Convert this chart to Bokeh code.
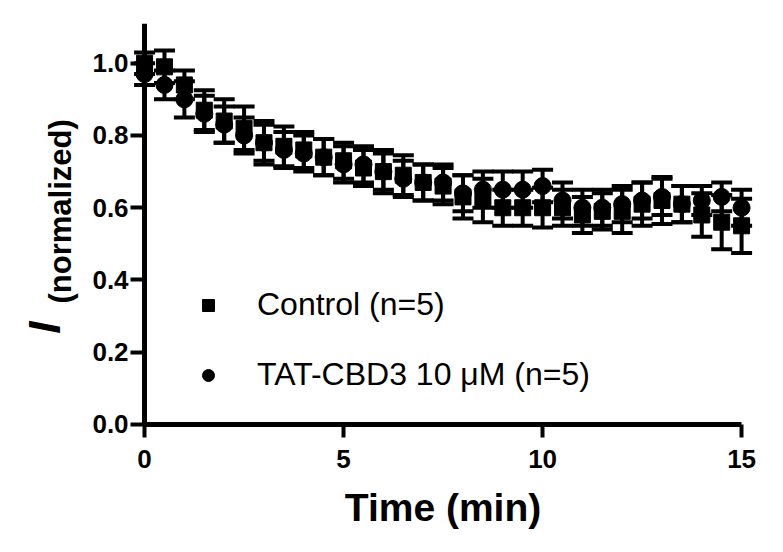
from bokeh.plotting import figure
from bokeh.models import (Range1d, FixedTicker, PrintfTickFormatter, Whisker, TeeHead,
                          ColumnDataSource, Label, Legend, LegendItem)
from bokeh.embed import file_html
from bokeh.resources import INLINE

# ---- data ----
time_min = [0, 0.5, 1, 1.5, 2, 2.5, 3, 3.5, 4, 4.5, 5, 5.5, 6, 6.5, 7, 7.5,
            8, 8.5, 9, 9.5, 10, 10.5, 11, 11.5, 12, 12.5, 13, 13.5, 14, 14.5, 15]
control_mean = [1.00, 0.99, 0.94, 0.87, 0.84, 0.82, 0.78, 0.77, 0.76, 0.74, 0.73,
                0.71, 0.70, 0.69, 0.67, 0.66, 0.63, 0.62, 0.60, 0.60, 0.60, 0.60,
                0.58, 0.59, 0.59, 0.61, 0.62, 0.61, 0.58, 0.56, 0.55]
control_sem = [0.03, 0.045, 0.04, 0.055, 0.06, 0.06, 0.06, 0.055, 0.05, 0.05, 0.05,
               0.05, 0.06, 0.055, 0.05, 0.05, 0.06, 0.06, 0.05, 0.05, 0.055, 0.05,
               0.05, 0.05, 0.06, 0.06, 0.065, 0.05, 0.06, 0.075, 0.075]
tat_mean = [0.97, 0.94, 0.90, 0.86, 0.83, 0.80, 0.78, 0.76, 0.75, 0.74, 0.72,
            0.72, 0.70, 0.68, 0.67, 0.67, 0.64, 0.65, 0.65, 0.65, 0.66, 0.62,
            0.60, 0.60, 0.61, 0.62, 0.63, 0.61, 0.62, 0.63, 0.60]
tat_sem = [0.03, 0.04, 0.05, 0.05, 0.05, 0.05, 0.05, 0.05, 0.05, 0.05, 0.05,
           0.05, 0.05, 0.05, 0.05, 0.05, 0.05, 0.05, 0.05, 0.05, 0.045, 0.05,
           0.05, 0.05, 0.05, 0.05, 0.05, 0.05, 0.04, 0.04, 0.05]
x_ticks = [0, 5, 10, 15]
y_ticks = [0.0, 0.2, 0.4, 0.6, 0.8, 1.0]
legend_labels = ["Control (n=5)", "TAT-CBD3 10 \u03bcM (n=5)"]
x_title = "Time (min)"
y_title_main = "I"
y_title_sub = "(normalized)"

FONT = "Liberation Sans"

src = ColumnDataSource(dict(
    t=time_min,
    control=control_mean,
    c_lo=[m - s for m, s in zip(control_mean, control_sem)],
    c_hi=[m + s for m, s in zip(control_mean, control_sem)],
    tat=tat_mean,
    t_lo=[m - s for m, s in zip(tat_mean, tat_sem)],
    t_hi=[m + s for m, s in zip(tat_mean, tat_sem)],
))

p = figure(frame_width=757, frame_height=527,
           x_range=Range1d(-3.57, 15.45), y_range=Range1d(-0.3488, 1.11),
           output_backend="svg", toolbar_location=None,
           min_border_left=2, min_border_right=24,
           min_border_top=23, min_border_bottom=1)
p.outline_line_color = None
p.grid.visible = False
p.background_fill_color = "white"

# axes (both drawn through the origin)
p.yaxis.fixed_location = 0
p.xaxis.fixed_location = 0
p.xaxis.bounds = (0, 15)
p.yaxis.bounds = (0, 1.11)
for ax in (p.xaxis, p.yaxis):
    ax.axis_line_width = 5
    ax.axis_line_color = "black"
    ax.major_tick_line_width = 4
    ax.major_tick_line_color = "black"
    ax.major_tick_in = 0
    ax.minor_tick_line_color = None
    ax.major_label_text_font = FONT
    ax.major_label_text_font_style = "bold"
    ax.major_label_text_font_size = "26px"
    ax.major_label_text_color = "black"

p.xaxis.ticker = FixedTicker(ticks=x_ticks)
p.xaxis.major_tick_out = 13
p.xaxis.major_label_standoff = 13
p.xaxis.axis_label = x_title
p.xaxis.axis_label_text_font = FONT
p.xaxis.axis_label_text_font_style = "bold"
p.xaxis.axis_label_text_font_size = "39px"
p.xaxis.axis_label_text_color = "black"
p.xaxis.axis_label_standoff = 14

p.yaxis.ticker = FixedTicker(ticks=y_ticks)
p.yaxis.formatter = PrintfTickFormatter(format="%.1f")
p.yaxis.major_tick_out = 14
p.yaxis.major_label_standoff = 2

# y title as two labels (main italic "I" + subscript)
p.add_layout(Label(x=-2.51, y=0.268, text=y_title_main, angle=90, angle_units="deg",
                   text_align="center", text_baseline="middle", text_font=FONT,
                   text_font_size="44px", text_font_style="bold italic", text_color="black"))
p.add_layout(Label(x=-2.11, y=0.59, text=y_title_sub, angle=90, angle_units="deg",
                   text_align="center", text_baseline="middle", text_font=FONT,
                   text_font_size="31px", text_font_style="bold", text_color="black"))

# error bars
for lo, hi in (("c_lo", "c_hi"), ("t_lo", "t_hi")):
    p.add_layout(Whisker(base="t", lower=lo, upper=hi, source=src, dimension="height",
                         line_width=4, line_color="black",
                         upper_head=TeeHead(size=21, line_width=4, line_color="black"),
                         lower_head=TeeHead(size=21, line_width=4, line_color="black")))

r_tat = p.scatter(x="t", y="tat", source=src, marker="circle", size=17,
                  fill_color="black", line_color="black")
r_ctl = p.scatter(x="t", y="control", source=src, marker="square", size=16,
                  fill_color="black", line_color="black")

legend = Legend(items=[LegendItem(label=legend_labels[0], renderers=[r_ctl]),
                       LegendItem(label=legend_labels[1], renderers=[r_tat])],
                location=(191, 157), orientation="vertical",
                padding=0, margin=0, spacing=33,
                glyph_width=30, glyph_height=30, label_standoff=34,
                label_text_font=FONT, label_text_font_size="32px",
                label_text_color="black", label_text_baseline="middle",
                border_line_color=None, background_fill_alpha=0)
p.add_layout(legend)

open("out.html", "w").write(file_html(p, INLINE))
